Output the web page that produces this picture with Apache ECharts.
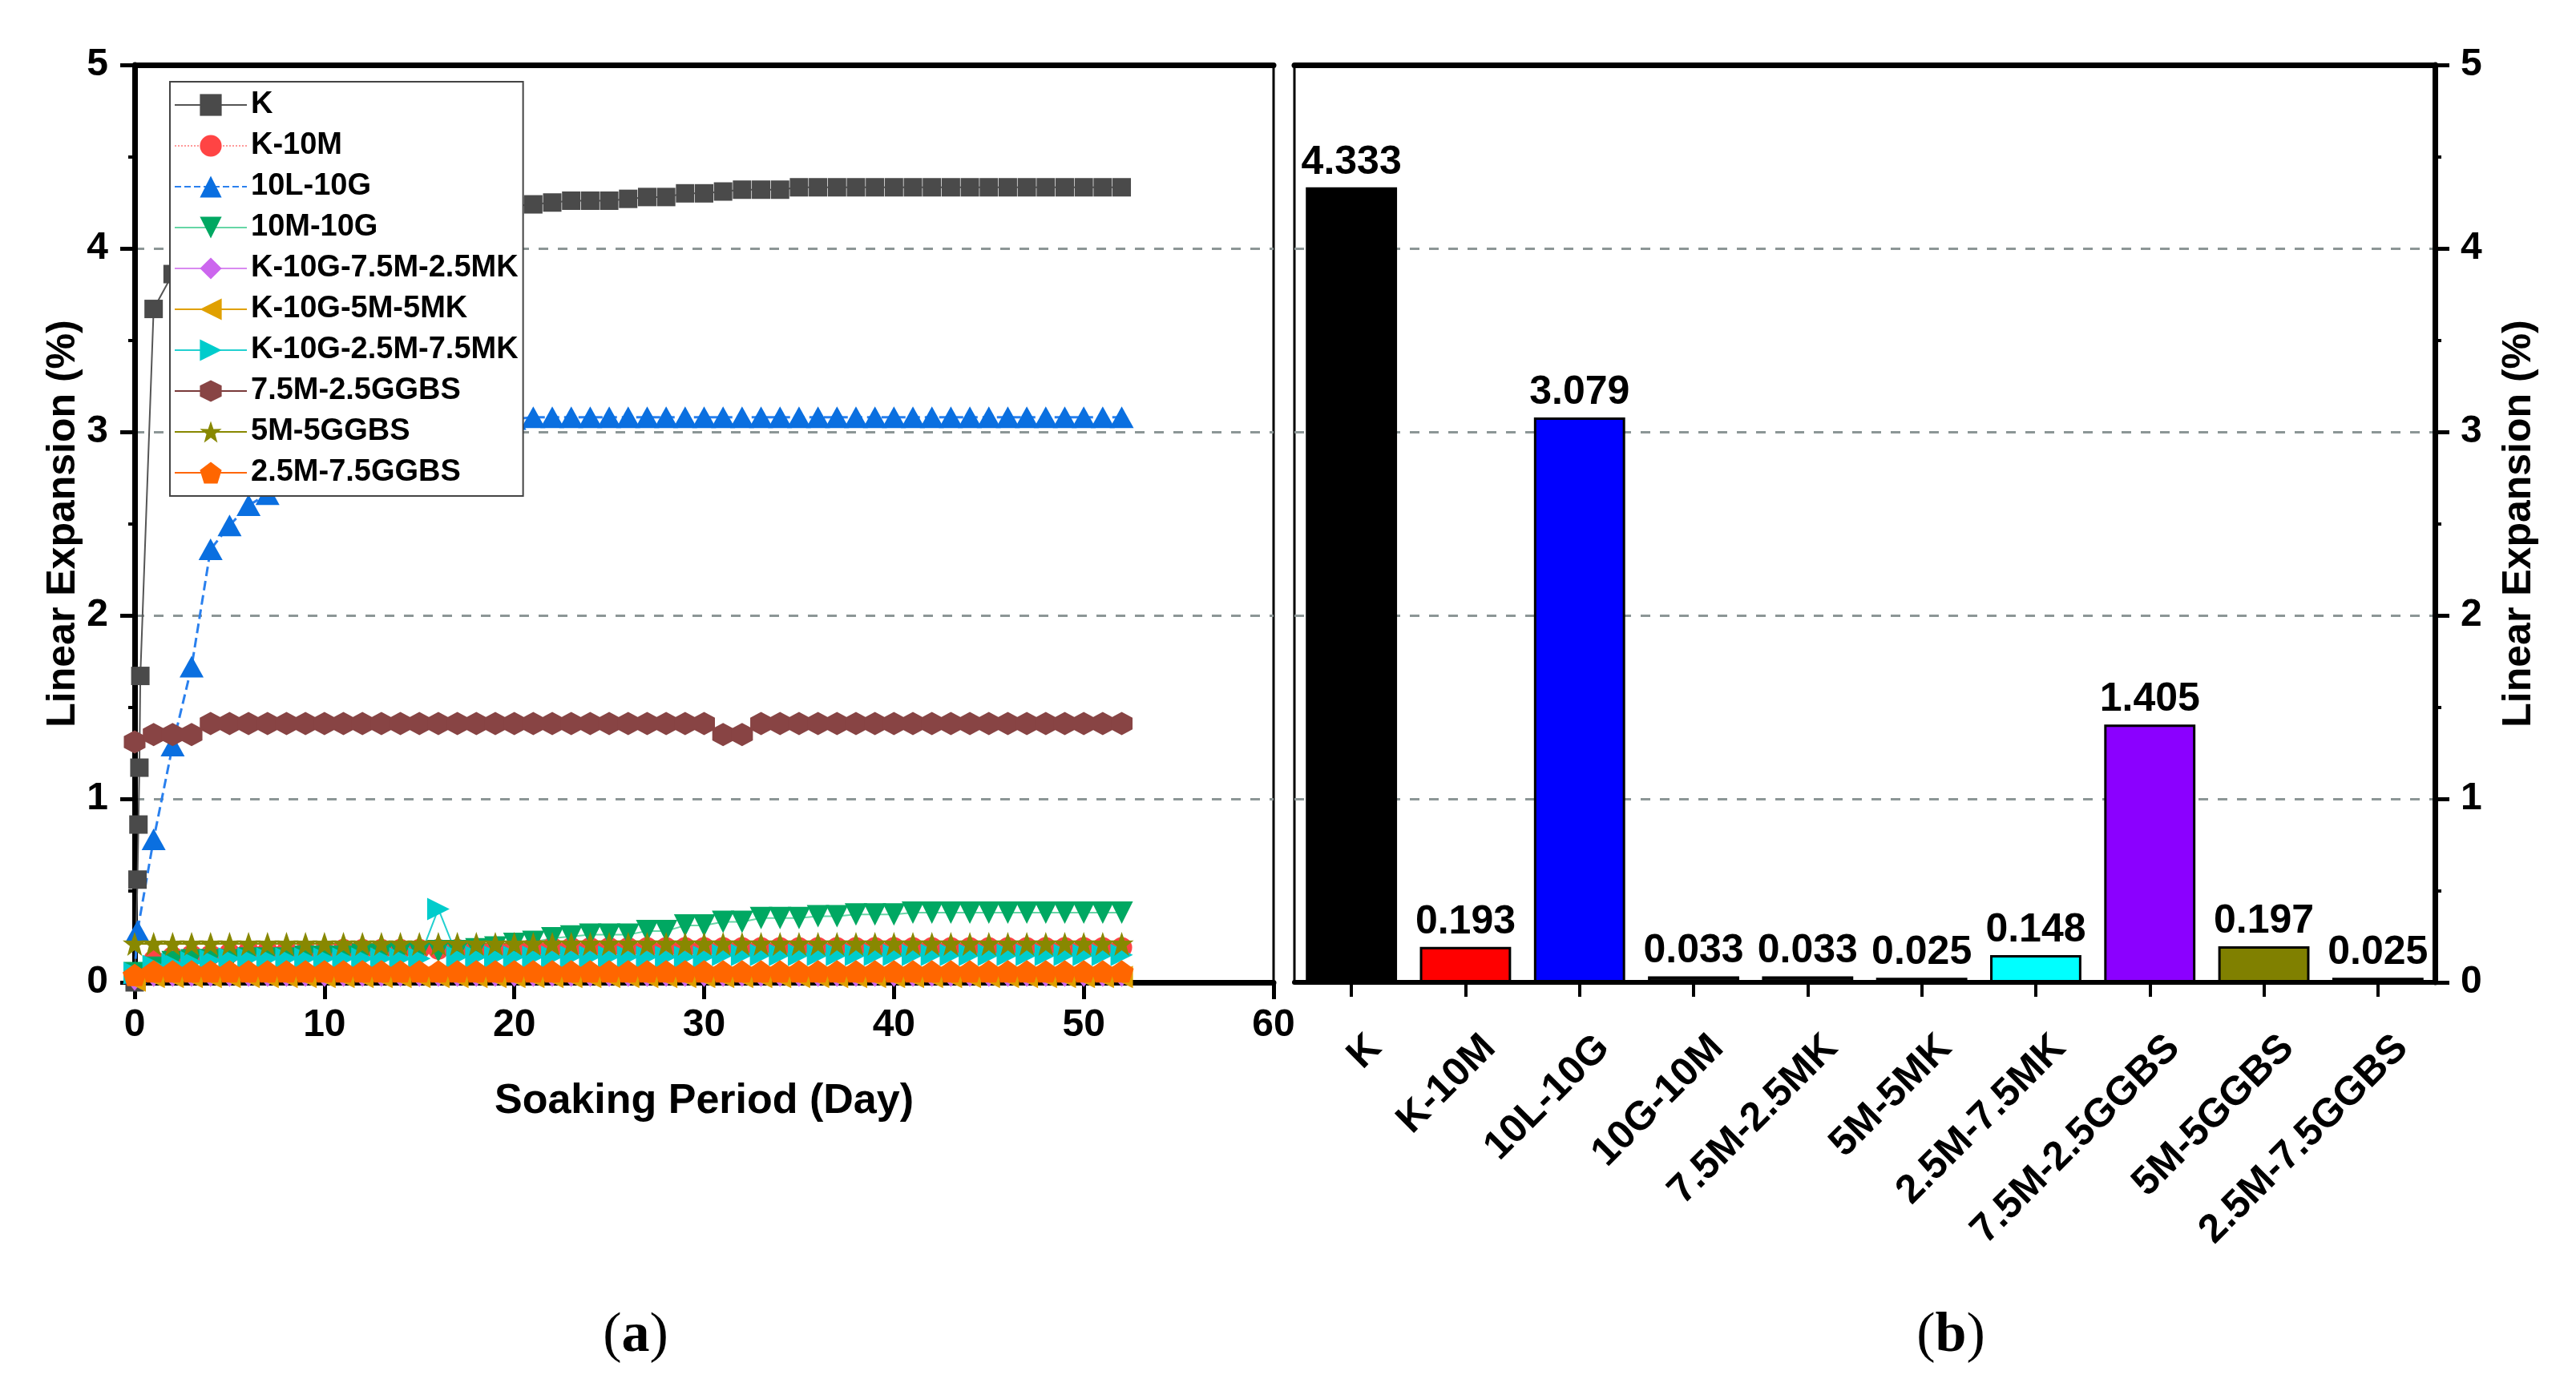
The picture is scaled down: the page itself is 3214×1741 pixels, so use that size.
<!DOCTYPE html>
<html><head><meta charset="utf-8">
<script src="https://cdn.jsdelivr.net/npm/echarts@6/dist/echarts.min.js"></script>
<style>html,body{margin:0;padding:0;background:#fff}#c{width:3214px;height:1741px}</style>
</head><body><div id="c"></div>
<script>
// ---------- data (left panel, soaking period in days) ----------
const days = [0,1,2,3,4,5,6,7,8,9,10,11,12,13,14,15,16,17,18,19,20,21,22,23,24,25,26,27,28,29,30,31,32,33,34,35,36,37,38,39,40,41,42,43,44,45,46,47,48,49,50,51,52];

const kEarlyDays = [0.15, 0.2, 0.25, 0.3];
const kEarlyVals = [0.56, 0.86, 1.17, 1.67];
const kVals = [0,3.67,3.86,3.95,4.00,4.04,4.07,4.09,4.11,4.12,4.14,4.15,4.16,4.17,4.18,4.19,4.20,4.21,4.22,4.22,4.23,4.24,4.25,4.26,4.26,4.26,4.27,4.28,4.28,4.30,4.30,4.31,4.32,4.32,4.32,4.333,4.333,4.333,4.333,4.333,4.333,4.333,4.333,4.333,4.333,4.333,4.333,4.333,4.333,4.333,4.333,4.333,4.333];
const k10mVals = [0.05,0.12,0.14,0.15,0.15,0.16,0.17,0.17,0.17,0.17,0.17,0.18,0.18,0.18,0.18,0.18,0.18,0.18,0.18,0.18,0.18,0.19,0.19,0.19,0.19,0.19,0.19,0.19,0.19,0.19,0.19,0.19,0.19,0.19,0.19,0.19,0.19,0.19,0.19,0.19,0.19,0.19,0.19,0.19,0.19,0.19,0.19,0.19,0.19,0.19,0.19,0.19,0.19];
const l10gEarlyDays = [0.15];
const l10gEarlyVals = [0.28];
const l10gVals = [0.05,0.78,1.29,1.72,2.36,2.49,2.60,2.66,2.72,2.78,2.83,2.88,2.92,2.95,2.98,3.00,3.02,3.04,3.05,3.06,3.07,3.08,3.08,3.08,3.08,3.08,3.08,3.08,3.08,3.08,3.08,3.08,3.08,3.08,3.08,3.08,3.08,3.08,3.08,3.08,3.08,3.08,3.08,3.08,3.08,3.08,3.08,3.08,3.08,3.08,3.08,3.08,3.08];
const m10gVals = [0.05,0.08,0.11,0.12,0.12,0.12,0.13,0.13,0.13,0.14,0.14,0.14,0.15,0.15,0.16,0.16,0.17,0.17,0.18,0.19,0.21,0.22,0.24,0.25,0.26,0.26,0.26,0.28,0.28,0.31,0.31,0.33,0.33,0.35,0.35,0.35,0.36,0.36,0.37,0.37,0.37,0.38,0.38,0.38,0.38,0.38,0.38,0.38,0.38,0.38,0.38,0.38,0.38];
const mk25Vals = [0.02,0.04,0.04,0.04,0.04,0.04,0.04,0.04,0.04,0.04,0.04,0.04,0.04,0.04,0.04,0.04,0.04,0.04,0.04,0.04,0.04,0.04,0.04,0.04,0.04,0.04,0.04,0.04,0.04,0.04,0.04,0.04,0.04,0.04,0.04,0.04,0.04,0.04,0.04,0.04,0.04,0.04,0.04,0.04,0.04,0.04,0.04,0.04,0.04,0.04,0.04,0.04,0.04];
const mk5Vals = [0.01,0.03,0.03,0.03,0.03,0.03,0.03,0.03,0.03,0.03,0.03,0.03,0.03,0.03,0.03,0.03,0.03,0.03,0.03,0.03,0.03,0.03,0.03,0.03,0.03,0.03,0.03,0.03,0.03,0.03,0.03,0.03,0.03,0.03,0.03,0.03,0.03,0.03,0.03,0.03,0.03,0.03,0.03,0.03,0.03,0.03,0.03,0.03,0.03,0.03,0.03,0.03,0.03];
const mk75Vals = [0.05,0.09,0.10,0.11,0.12,0.13,0.13,0.13,0.13,0.13,0.13,0.13,0.13,0.13,0.13,0.13,0.40,0.14,0.14,0.14,0.14,0.14,0.14,0.14,0.14,0.14,0.14,0.14,0.14,0.14,0.14,0.15,0.15,0.15,0.15,0.15,0.15,0.15,0.15,0.15,0.15,0.15,0.15,0.15,0.15,0.15,0.15,0.15,0.15,0.15,0.15,0.15,0.15];
const g25Vals = [1.31,1.35,1.35,1.35,1.41,1.41,1.41,1.41,1.41,1.41,1.41,1.41,1.41,1.41,1.41,1.41,1.41,1.41,1.41,1.41,1.41,1.41,1.41,1.41,1.41,1.41,1.41,1.41,1.41,1.41,1.41,1.35,1.35,1.41,1.41,1.41,1.41,1.41,1.41,1.41,1.41,1.41,1.41,1.41,1.41,1.41,1.41,1.41,1.41,1.41,1.41,1.41,1.41];
const g5Vals = [0.21,0.21,0.21,0.21,0.21,0.21,0.21,0.21,0.21,0.21,0.21,0.21,0.21,0.21,0.21,0.21,0.21,0.21,0.21,0.21,0.21,0.21,0.21,0.21,0.21,0.21,0.21,0.21,0.21,0.21,0.21,0.21,0.21,0.21,0.21,0.21,0.21,0.21,0.21,0.21,0.21,0.21,0.21,0.21,0.21,0.21,0.21,0.21,0.21,0.21,0.21,0.21,0.21];
const g75Vals = [0.04,0.06,0.06,0.06,0.06,0.06,0.06,0.06,0.06,0.06,0.06,0.06,0.06,0.06,0.06,0.06,0.06,0.06,0.06,0.06,0.06,0.06,0.06,0.06,0.06,0.06,0.06,0.06,0.06,0.06,0.06,0.06,0.06,0.06,0.06,0.06,0.06,0.06,0.06,0.06,0.06,0.06,0.06,0.06,0.06,0.06,0.06,0.06,0.06,0.06,0.06,0.06,0.06];

const seriesNames = ['K','K-10M','10L-10G','10M-10G','K-10G-7.5M-2.5MK','K-10G-5M-5MK','K-10G-2.5M-7.5MK','7.5M-2.5GGBS','5M-5GGBS','2.5M-7.5GGBS'];

// ---------- data (right panel, final expansion) ----------
const barCategories = ['K','K-10M','10L-10G','10G-10M','7.5M-2.5MK','5M-5MK','2.5M-7.5MK','7.5M-2.5GGBS','5M-5GGBS','2.5M-7.5GGBS'];
const barValues = [4.333, 0.193, 3.079, 0.033, 0.033, 0.025, 0.148, 1.405, 0.197, 0.025];

const yTicks = [0,1,2,3,4,5];
const xTicks = [0,10,20,30,40,50,60];

// ---------- styling ----------
const barColors = ['#000000','#ff0000','#0000ff','#101010','#101010','#101010','#00ffff','#8b00ff','#808000','#101010'];
const FONT = 'Liberation Sans';
const HEX = 'path://M50,0 L93.3,25 L93.3,75 L50,100 L6.7,75 L6.7,25 Z';
const PENT = 'path://M50,0 L97.6,34.5 L79.4,90.5 L20.6,90.5 L2.4,34.5 Z';
const STAR = 'path://M50,0 L61.8,35.1 L97.6,34.5 L69,56.7 L79.4,95 L50,73 L20.6,95 L31,56.7 L2.4,34.5 L38.2,35.1 Z';

function pairs(xs, ys){ return xs.map((x,i)=>[x, ys[i]]); }

function lineSeries(name, data, color, lineColor, lineType, lineWidth, symbol, size, rotate){
  return {
    name, type:'line', xAxisIndex:0, yAxisIndex:0, data,
    symbol, symbolSize:size, symbolRotate:rotate||0,
    showSymbol:true, showAllSymbol:true,
    itemStyle:{color},
    lineStyle:{color:lineColor, type:lineType, width:lineWidth},
    emphasis:{disabled:true}
  };
}

const kData = [[0,kVals[0]]].concat(pairs(kEarlyDays,kEarlyVals), pairs(days.slice(1), kVals.slice(1)));
const blueData = [[0,l10gVals[0]]].concat(pairs(l10gEarlyDays,l10gEarlyVals), pairs(days.slice(1), l10gVals.slice(1)));

const series = [
  lineSeries(seriesNames[0], kData, '#4a4a4a', '#555555', 'solid', 2, 'rect', 23),
  lineSeries(seriesNames[1], pairs(days,k10mVals), '#ff4444', '#ff9a9a', 'dotted', 2, 'circle', 26),
  lineSeries(seriesNames[2], blueData, '#0a6fe0', '#2a80ee', 'dashed', 3, 'triangle', [30,27]),
  lineSeries(seriesNames[3], pairs(days,m10gVals), '#00a862', '#66d6a6', 'solid', 2, 'triangle', [28,28], 180),
  lineSeries(seriesNames[4], pairs(days,mk25Vals), '#cc66ee', '#d98af0', 'solid', 2, 'diamond', [24,30]),
  lineSeries(seriesNames[5], pairs(days,mk5Vals), '#e0a000', '#e0a000', 'solid', 2, 'triangle', [28,28], 90),
  lineSeries(seriesNames[6], pairs(days,mk75Vals), '#00cccc', '#22d0d0', 'solid', 2, 'triangle', [28,28], -90),
  lineSeries(seriesNames[7], pairs(days,g25Vals), '#884444', '#7a3a3a', 'solid', 2, HEX, [27,29]),
  lineSeries(seriesNames[8], pairs(days,g5Vals), '#888800', '#888800', 'solid', 2, STAR, [30,30]),
  lineSeries(seriesNames[9], pairs(days,g75Vals), '#ff6600', '#ff6600', 'solid', 2, PENT, [30,28])
];

series.push({
  name:'final', type:'bar', xAxisIndex:2, yAxisIndex:1, barWidth:'80%',
  data: barValues.map((v,i)=>({value:v, itemStyle:{color:barColors[i]}})),
  itemStyle:{borderColor:'#000', borderWidth:3},
  label:{show:true, position:'top', distance:6, color:'#000', fontFamily:FONT, fontWeight:'bold', fontSize:50,
    formatter:(p)=>p.value.toFixed(3)},
  emphasis:{disabled:true}
});

const split = {show:true, lineStyle:{color:'#8c9696', type:[12,12], width:3}};
const tickLabel = {color:'#000', fontFamily:FONT, fontWeight:'bold', fontSize:48};

const option = {
  animation:false,
  backgroundColor:'#fff',
  grid:[
    {left:168, top:81, width:1421, height:1145, show:true, borderColor:'#000', borderWidth:3, backgroundColor:'transparent'},
    {left:1615, top:81, width:1423, height:1145, show:true, borderColor:'#000', borderWidth:3, backgroundColor:'transparent'}
  ],
  legend:{
    data:seriesNames, orient:'vertical', left:212, top:102,
    itemWidth:90, itemHeight:34, itemGap:13,
    padding:[10,6,10,5], borderColor:'#444', borderWidth:2, backgroundColor:'#fff',
    textStyle:{color:'#000', fontFamily:FONT, fontWeight:'bold', fontSize:38, lineHeight:38},
    selectedMode:false, z:10
  },
  xAxis:[
    {gridIndex:0, type:'value', min:0, max:60, interval:10, position:'bottom',
      name:'Soaking Period (Day)', nameLocation:'middle', nameGap:123,
      nameTextStyle:{color:'#000', fontFamily:FONT, fontWeight:'bold', fontSize:52},
      axisLine:{show:true, onZero:false, lineStyle:{color:'#000', width:7}},
      axisTick:{show:true, inside:false, length:21, lineStyle:{color:'#000', width:5}},
      axisLabel:Object.assign({margin:30, customValues:xTicks}, tickLabel),
      splitLine:{show:false}},
    {gridIndex:0, type:'value', min:0, max:60, position:'top',
      axisLine:{show:true, onZero:false, lineStyle:{color:'#000', width:7}},
      axisTick:{show:false}, axisLabel:{show:false}, splitLine:{show:false}},
    {gridIndex:1, type:'category', data:barCategories, position:'bottom',
      axisLine:{show:true, onZero:false, lineStyle:{color:'#000', width:6}},
      axisTick:{show:true, alignWithLabel:true, length:18, lineStyle:{color:'#000', width:4}},
      axisLabel:Object.assign({rotate:45, interval:0, margin:104, padding:[0,-42,0,0]}, tickLabel, {fontSize:50}),
      splitLine:{show:false}},
    {gridIndex:1, type:'category', data:barCategories, position:'top',
      axisLine:{show:true, onZero:false, lineStyle:{color:'#000', width:7}},
      axisTick:{show:false}, axisLabel:{show:false}, splitLine:{show:false}}
  ],
  yAxis:[
    {gridIndex:0, type:'value', min:0, max:5, interval:1, position:'left',
      name:'Linear Expansion (%)', nameLocation:'middle', nameGap:64, nameRotate:90,
      nameTextStyle:{color:'#000', fontFamily:FONT, fontWeight:'bold', fontSize:50},
      axisLine:{show:true, onZero:false, lineStyle:{color:'#000', width:7}},
      axisTick:{show:true, length:18, lineStyle:{color:'#000', width:5}},
      minorTick:{show:true, splitNumber:2, length:8, lineStyle:{color:'#000', width:4}},
      axisLabel:Object.assign({margin:33, customValues:yTicks}, tickLabel),
      splitLine:split},
    {gridIndex:1, type:'value', min:0, max:5, interval:1, position:'right',
      name:'Linear Expansion (%)', nameLocation:'middle', nameGap:80, nameRotate:90,
      nameTextStyle:{color:'#000', fontFamily:FONT, fontWeight:'bold', fontSize:50},
      axisLine:{show:true, onZero:false, lineStyle:{color:'#000', width:7}},
      axisTick:{show:true, length:18, lineStyle:{color:'#000', width:5}},
      minorTick:{show:true, splitNumber:2, length:8, lineStyle:{color:'#000', width:4}},
      axisLabel:Object.assign({margin:32, customValues:yTicks}, tickLabel),
      splitLine:split}
  ],
  graphic:[
    {type:'text', x:793, y:1668, style:{text:'{p|(}{b|a}{p|)}', align:'center', verticalAlign:'middle',
      rich:{p:{fontFamily:'Liberation Serif', fontSize:70, fill:'#000'}, b:{fontFamily:'Liberation Serif', fontWeight:'bold', fontSize:70, fill:'#000'}}}},
    {type:'text', x:2434, y:1668, style:{text:'{p|(}{b|b}{p|)}', align:'center', verticalAlign:'middle',
      rich:{p:{fontFamily:'Liberation Serif', fontSize:70, fill:'#000'}, b:{fontFamily:'Liberation Serif', fontWeight:'bold', fontSize:70, fill:'#000'}}}}
  ],
  series
};

const chart = echarts.init(document.getElementById('c'), null, {renderer:'canvas'});
chart.setOption(option);
</script>
</body></html>
